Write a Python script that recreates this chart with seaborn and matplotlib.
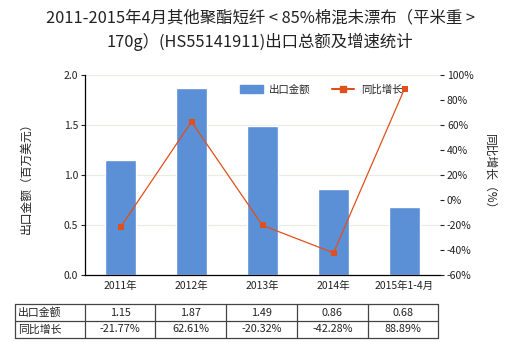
import matplotlib
matplotlib.use("Agg")
import matplotlib.pyplot as plt
import seaborn as sns
import pandas as pd
from matplotlib.lines import Line2D

categories = ["2011年", "2012年", "2013年", "2014年", "2015年1-4月"]
export_value = [1.15, 1.87, 1.49, 0.86, 0.68]
growth_pct = [-21.77, 62.61, -20.32, -42.28, 88.89]
row_labels = ["出口金额", "同比增长"]

sns.set_theme(style="white")
plt.rcParams["font.family"] = ["Noto Sans CJK SC", "DejaVu Sans"]
plt.rcParams["axes.unicode_minus"] = False

bar_color = "#5b8fd6"
line_color = "#e0501c"
text_color = "#222222"

df = pd.DataFrame({"cat": categories, "value": export_value, "growth": growth_pct})

fig = plt.figure(figsize=(5.2, 3.5), dpi=100)
ax = fig.add_axes([85 / 520, 75 / 350, 355 / 520, 200 / 350])

sns.barplot(data=df, x="cat", y="value", color=bar_color, width=0.43,
            saturation=1, ax=ax, zorder=2)
ax.set_ylim(0, 2.0)
ax.set_yticks([0, 0.5, 1.0, 1.5, 2.0])
ax.set_yticklabels(["0.0", "0.5", "1.0", "1.5", "2.0"])
ax.set_xlabel("")
ax.set_ylabel("出口金额（百万美元）", fontsize=8.5, color=text_color, labelpad=22)
for y in [0.5, 1.0, 1.5, 2.0]:
    ax.axhline(y, color="#ecebdf", lw=0.8, zorder=0)
ax.tick_params(axis="y", labelsize=7.5, colors=text_color, length=3, width=0.8, left=True, pad=2)
ax.tick_params(axis="x", labelsize=7.5, colors=text_color, length=0, pad=4)
for side in ["top", "right"]:
    ax.spines[side].set_visible(False)
ax.spines["left"].set_color("#000000")
ax.spines["bottom"].set_color("#000000")
ax.spines["left"].set_linewidth(0.9)
ax.spines["bottom"].set_linewidth(0.9)

ax2 = ax.twinx()
sns.lineplot(x=list(range(len(categories))), y=growth_pct, ax=ax2, color=line_color,
             lw=0.9, marker="s", markersize=4, markeredgewidth=0, zorder=3)
ax2.set_ylim(-60, 100)
ax2.set_yticks(range(-60, 101, 20))
ax2.set_yticklabels([f"{v}%" for v in range(-60, 101, 20)])
ax2.tick_params(axis="y", labelsize=7.5, colors=text_color, length=3, width=0.8, right=True, pad=2)
ax2.set_ylabel("同比增长（%）", fontsize=8.5, color=text_color, rotation=270, labelpad=16)
for side in ["top", "left", "bottom", "right"]:
    ax2.spines[side].set_visible(False)
ax.set_xlim(-0.5, len(categories) - 0.5)

handles = [plt.Rectangle((0, 0), 1, 1, color=bar_color),
           Line2D([0], [0], color=line_color, lw=1.5, marker="s", markersize=4)]
ax.legend(handles, ["出口金额", "同比增长"], loc="upper right", bbox_to_anchor=(0.92, 1.0),
          ncol=2, frameon=False, fontsize=7.5, handlelength=2.2, columnspacing=2.0,
          handletextpad=0.6)

fig.text(0.5, 1 - 18 / 350, "2011-2015年4月其他聚酯短纤 < 85%棉混未漂布（平米重 >",
         ha="center", va="center", fontsize=11.8, color=text_color)
fig.text(0.5, 1 - 42 / 350, "170g）(HS55141911)出口总额及增速统计",
         ha="center", va="center", fontsize=11.8, color=text_color)

# data table below the chart
x_edges = [15, 85, 155, 226, 297, 368, 438]
y_edges = [304, 321, 338]
W, H = 520, 350
tc = "#444444"
for xe in x_edges:
    fig.add_artist(Line2D([xe / W, xe / W], [1 - y_edges[0] / H, 1 - y_edges[-1] / H],
                          color=tc, lw=0.9))
for ye in y_edges:
    fig.add_artist(Line2D([x_edges[0] / W, x_edges[-1] / W], [1 - ye / H, 1 - ye / H],
                          color=tc, lw=0.9))
rows = [[f"{v:.2f}" for v in export_value], [f"{v:.2f}%" for v in growth_pct]]
for r, (lab, vals) in enumerate(zip(row_labels, rows)):
    yc = 1 - (y_edges[r] + y_edges[r + 1]) / 2 / H
    fig.text((x_edges[0] + 3) / W, yc, lab, ha="left", va="center", fontsize=7.8, color=text_color)
    for c, v in enumerate(vals):
        xc = (x_edges[c + 1] + x_edges[c + 2]) / 2 / W
        fig.text(xc, yc, v, ha="center", va="center", fontsize=7.8, color=text_color)

fig.savefig("out.png", dpi=100, facecolor="white")
